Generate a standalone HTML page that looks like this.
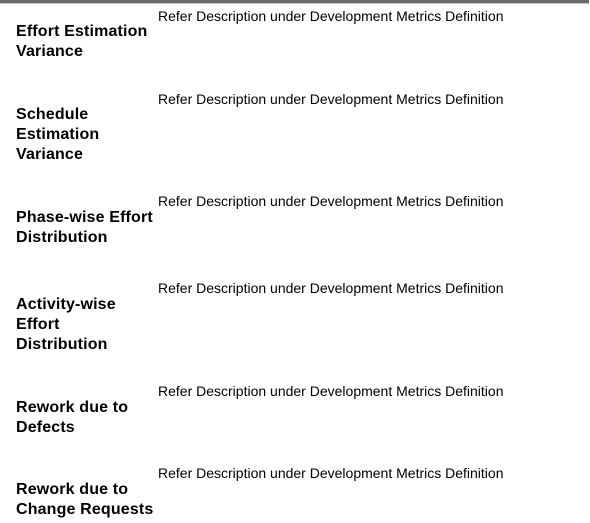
<!DOCTYPE html>
<html><head><style>
html,body{margin:0;padding:0;background:#fff;width:590px;height:523px;overflow:hidden;position:relative;font-family:"Liberation Sans",Arial,sans-serif;color:#000}
.bar{position:absolute;left:0;top:0;width:589px;height:3px;background:#6b6b6b;border-bottom:1px solid #c8c8c8}
.l{position:absolute;left:16px;font-weight:bold;font-size:16px;line-height:20px;white-space:nowrap;letter-spacing:0.15px}
.d{position:absolute;left:158px;font-size:14px;line-height:16px;white-space:nowrap}
</style></head><body>
<div class="bar"></div>
<div class="d" style="top:8px">Refer Description under Development Metrics Definition</div>
<div class="l" style="top:22px">Effort Estimation<br>Variance</div>
<div class="d" style="top:91px">Refer Description under Development Metrics Definition</div>
<div class="l" style="top:105px">Schedule<br>Estimation<br>Variance</div>
<div class="d" style="top:193px">Refer Description under Development Metrics Definition</div>
<div class="l" style="top:208px">Phase-wise Effort<br>Distribution</div>
<div class="d" style="top:280px">Refer Description under Development Metrics Definition</div>
<div class="l" style="top:295px">Activity-wise<br>Effort<br>Distribution</div>
<div class="d" style="top:383px">Refer Description under Development Metrics Definition</div>
<div class="l" style="top:398px">Rework due to<br>Defects</div>
<div class="d" style="top:465px">Refer Description under Development Metrics Definition</div>
<div class="l" style="top:480px">Rework due to<br>Change Requests</div>
</body></html>
